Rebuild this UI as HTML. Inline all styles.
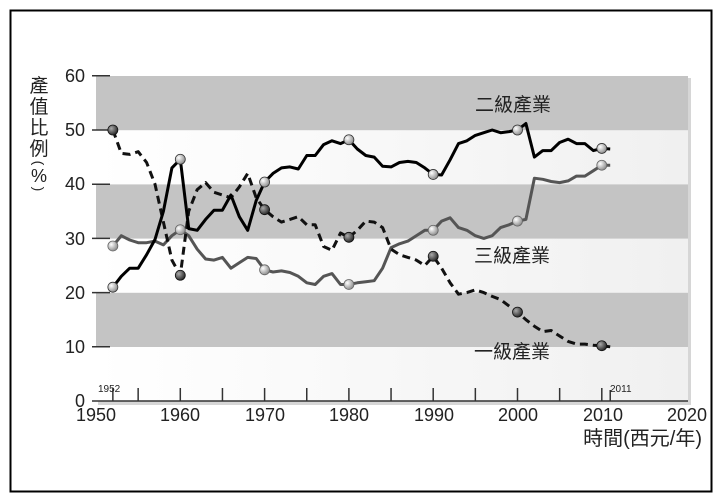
<!DOCTYPE html>
<html><head><meta charset="utf-8"><style>
html,body{margin:0;padding:0;background:#fff;}
svg{display:block;}
text{font-family:"Liberation Sans","Noto Sans CJK TC",sans-serif;}
</style></head><body>
<svg id="s" width="725" height="503" viewBox="0 0 725 503" xmlns="http://www.w3.org/2000/svg">
<defs>
<linearGradient id="bg" x1="0" x2="1" y1="0" y2="0"><stop offset="0" stop-color="#ffffff"/><stop offset="1" stop-color="#f0f0f0"/></linearGradient>
<radialGradient id="gm" cx="0.35" cy="0.35" r="0.7"><stop offset="0" stop-color="#ffffff"/><stop offset="1" stop-color="#888"/></radialGradient>
<radialGradient id="dm" cx="0.35" cy="0.35" r="0.7"><stop offset="0" stop-color="#aaa"/><stop offset="1" stop-color="#222"/></radialGradient>
</defs>
<rect x="10.5" y="10.5" width="701" height="481" fill="#fff" stroke="#000" stroke-width="2"/>
<rect x="98" y="78" width="593" height="327" fill="#bbb" opacity="0.6"/>
<rect x="96" y="76" width="592" height="325" fill="url(#bg)"/>
<rect x="96" y="76" width="592" height="54.2" fill="#c4c4c4"/>
<rect x="96" y="184.4" width="592" height="54.2" fill="#c4c4c4"/>
<rect x="96" y="292.8" width="592" height="54.2" fill="#c4c4c4"/>
<g id="ax" stroke="#333" stroke-width="1.5"></g>
<g font-size="18" fill="#222">
<text x="85" y="82" text-anchor="end">60</text>
<text x="85" y="136" text-anchor="end">50</text>
<text x="85" y="190" text-anchor="end">40</text>
<text x="85" y="245" text-anchor="end">30</text>
<text x="85" y="299" text-anchor="end">20</text>
<text x="85" y="353" text-anchor="end">10</text>
<text x="85" y="407" text-anchor="end">0</text>
<text x="96" y="421" text-anchor="middle">1950</text>
<text x="180" y="421" text-anchor="middle">1960</text>
<text x="265" y="421" text-anchor="middle">1970</text>
<text x="349" y="421" text-anchor="middle">1980</text>
<text x="434" y="421" text-anchor="middle">1990</text>
<text x="518" y="421" text-anchor="middle">2000</text>
<text x="603" y="421" text-anchor="middle">2010</text>
<text x="687" y="421" text-anchor="middle">2020</text>
</g>
<text x="98" y="392" font-size="10" fill="#222">1952</text>
<text x="610" y="392" font-size="10" fill="#222">2011</text>
<g font-size="19" fill="#222" text-anchor="middle">
<text x="39" y="92">產</text><text x="39" y="113">值</text><text x="39" y="134">比</text><text x="39" y="155">例</text>
<text x="0" y="0" font-size="14" dominant-baseline="central" transform="translate(39,163) rotate(90)">(</text>
<text x="39" y="182" font-size="18">%</text>
<text x="0" y="0" font-size="14" dominant-baseline="central" transform="translate(39,189) rotate(90)">)</text>
</g>
<text x="702" y="445" font-size="20" fill="#222" text-anchor="end">時間(西元/年)</text>
<g font-size="19" fill="#222">
<text x="475" y="111">二級產業</text>
<text x="474" y="262">三級產業</text>
<text x="474" y="358">一級產業</text>
</g>
<g id="lines"></g>
</svg>
<script>
var NS="http://www.w3.org/2000/svg";
function X(y){return 96+(y-1950)*8.43;}function Y(v){return 401-v*5.42;}
var sec=[21,23,24.5,24.5,27,29.8,35,43,44.6,31.8,31.5,33.5,35.2,35.2,38,34,31.5,37,40.4,42,43,43.2,42.8,45.3,45.3,47.3,48,47.5,48.2,46.5,45.3,45,43.3,43.2,44,44.2,44,43,41.8,41.7,44.5,47.5,48,49,49.5,50,49.5,49.7,50,51.2,45,46.2,46.2,47.7,48.3,47.5,47.5,46.2,46.6,46.5];
var pri=[50,45.7,45.5,46,44,40,33,26,23.2,35,39,40.3,38.5,38,37.5,39.5,42,37.5,35.3,34,33,33.5,34,32.5,32.5,28.5,27.8,31,30.2,31.5,33.2,33,32,28,27,26.5,26,25,26.7,24.5,21.8,19.7,20,20.5,20,19.3,18.7,17.5,16.4,15,13.8,12.8,13,12,11,10.5,10.5,10.3,10.2,10];
var ter=[28.6,30.5,29.7,29.2,29.2,29.5,28.8,30.5,31.6,30.5,28,26.2,26,26.5,24.5,25.5,26.5,26.3,24.2,23.8,24,23.7,23,21.8,21.5,23,23.5,21.5,21.5,21.8,22,22.2,24.5,28.3,29,29.5,30.5,31.5,31.5,33.2,33.8,32,31.5,30.5,30,30.5,32,32.5,33.2,33.5,41.1,40.9,40.5,40.3,40.6,41.5,41.5,42.5,43.5,43.5];
var g=document.getElementById("lines"),ax=document.getElementById("ax");
function el(t,a,p){var e=document.createElementNS(NS,t);for(var k in a)e.setAttribute(k,a[k]);p.appendChild(e);return e;}
el("line",{x1:92,y1:401,x2:688,y2:401},ax);
[60,50,40,30,20,10].forEach(function(v){el("line",{x1:92,y1:Y(v),x2:110,y2:Y(v)},ax);});
for(var yr=1955;yr<=2010;yr+=5){el("line",{x1:X(yr),y1:388,x2:X(yr),y2:401},ax);}
el("line",{x1:X(1952),y1:388,x2:X(1952),y2:401},ax);el("line",{x1:X(2011),y1:390,x2:X(2011),y2:401},ax);
function path(d,attrs){var s="";d.forEach(function(v,i){s+=(i?"L":"M")+X(1952+i).toFixed(1)+" "+Y(v).toFixed(1);});attrs.d=s;attrs.fill="none";attrs["stroke-linejoin"]="round";el("path",attrs,g);}
path(ter,{stroke:"#555","stroke-width":3});
path(pri,{stroke:"#111","stroke-width":3,"stroke-dasharray":"8,5"});
path(sec,{stroke:"#000","stroke-width":3});
var ys=[1952,1960,1970,1980,1990,2000,2010];
ys.forEach(function(y){var i=y-1952;
el("circle",{cx:X(y),cy:Y(ter[i]),r:5,fill:"url(#gm)",stroke:"#666","stroke-width":0.8},g);
el("circle",{cx:X(y),cy:Y(sec[i]),r:5,fill:"url(#gm)",stroke:"#333","stroke-width":0.8},g);
el("circle",{cx:X(y),cy:Y(pri[i]),r:5,fill:"url(#dm)",stroke:"#111","stroke-width":0.8},g);});
</script>
</body></html>
